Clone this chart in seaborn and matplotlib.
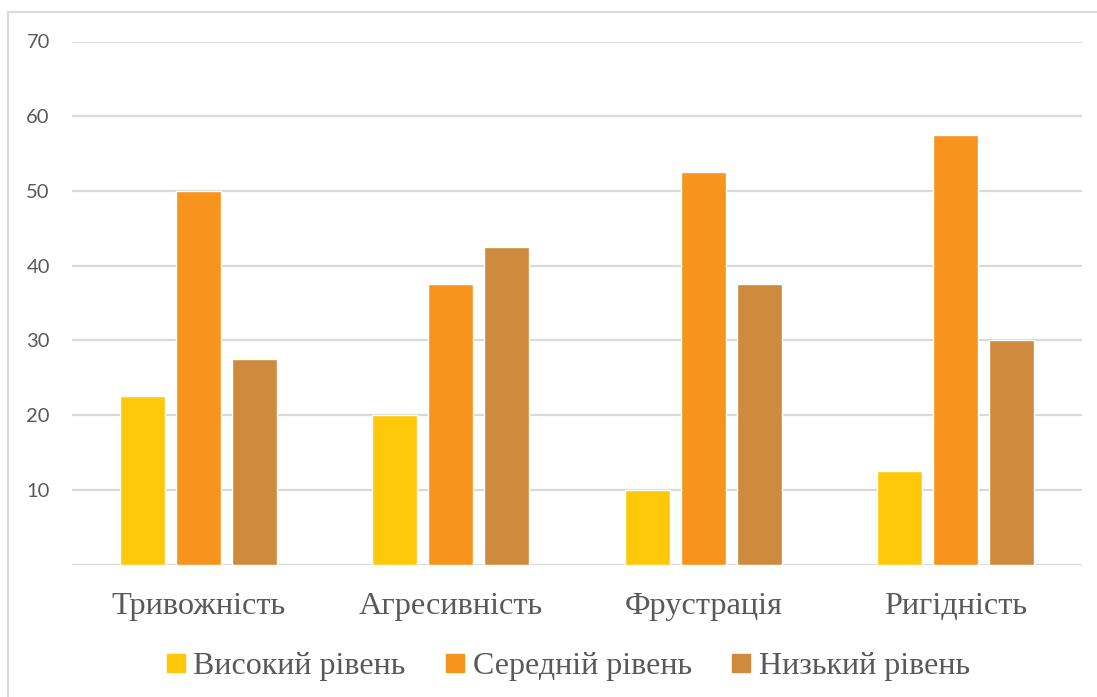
import matplotlib
matplotlib.use("Agg")
import matplotlib.pyplot as plt
from matplotlib.lines import Line2D
from matplotlib.patches import Rectangle
import pandas as pd
import seaborn as sns

categories = ["Тривожність", "Агресивність", "Фрустрація", "Ригідність"]
levels = ["Високий рівень", "Середній рівень", "Низький рівень"]
high = [22.5, 20, 10, 12.5]
medium = [50, 37.5, 52.5, 57.5]
low = [27.5, 42.5, 37.5, 30]
colors = ["#FFC80A", "#F7941E", "#CE8B3D"]
y_ticks = [0, 10, 20, 30, 40, 50, 60, 70]
y_tick_labels = ["", "10", "20", "30", "40", "50", "60", "70"]

df = pd.DataFrame({
    "category": categories * 3,
    "level": [levels[0]] * 4 + [levels[1]] * 4 + [levels[2]] * 4,
    "value": high + medium + low,
})

sns.set_theme(style="white")
text_color = "#595959"
serif = ["Liberation Serif", "DejaVu Serif"]

fig = plt.figure(figsize=(10.97, 6.97), dpi=100)
ax = fig.add_axes([72 / 1097, 1 - 564.5 / 697, 1010 / 1097, 523 / 697])

# outer chart frame (top and left edges visible)
fig.patches.append(Rectangle((8 / 1097, -0.05), 1.2, 1 - 12 / 697 + 0.05,
                             transform=fig.transFigure, fill=False,
                             edgecolor="#D9D9D9", linewidth=1.5, zorder=0))

sns.barplot(data=df, x="category", y="value", hue="level",
            order=categories, hue_order=levels, palette=colors,
            width=0.666, gap=0.2, saturation=1, legend=False, ax=ax,
            zorder=3)

ax.set_ylim(0, 70)
ax.set_xlim(-0.5, 3.5)
ax.set_yticks(y_ticks)
ax.set_yticklabels(y_tick_labels, fontfamily="Lato", fontsize=14.5, color=text_color)
ax.grid(axis="y", color="#D9D9D9", linewidth=1.6, zorder=0)
ax.set_axisbelow(True)
for s in ax.spines.values():
    s.set_visible(False)
ax.tick_params(axis="y", length=0, pad=16)
ax.tick_params(axis="x", length=0, pad=20)
for lbl in ax.get_xticklabels():
    lbl.set_fontfamily(serif)
    lbl.set_fontsize(23.3)
    lbl.set_color(text_color)
ax.set_xlabel("")
ax.set_ylabel("")

handles = [Line2D([0], [0], marker="s", linestyle="none", markersize=12.5,
                  markerfacecolor=c, markeredgecolor=c) for c in colors]
fig.legend(handles, levels, loc="center", bbox_to_anchor=(565 / 1097, 1 - 666 / 697),
           ncol=3, frameon=False, handletextpad=0.05, columnspacing=1.05,
           handlelength=1.0, prop={"family": serif, "size": 23},
           labelcolor=text_color)

fig.savefig("out.png", dpi=100, facecolor="white")
